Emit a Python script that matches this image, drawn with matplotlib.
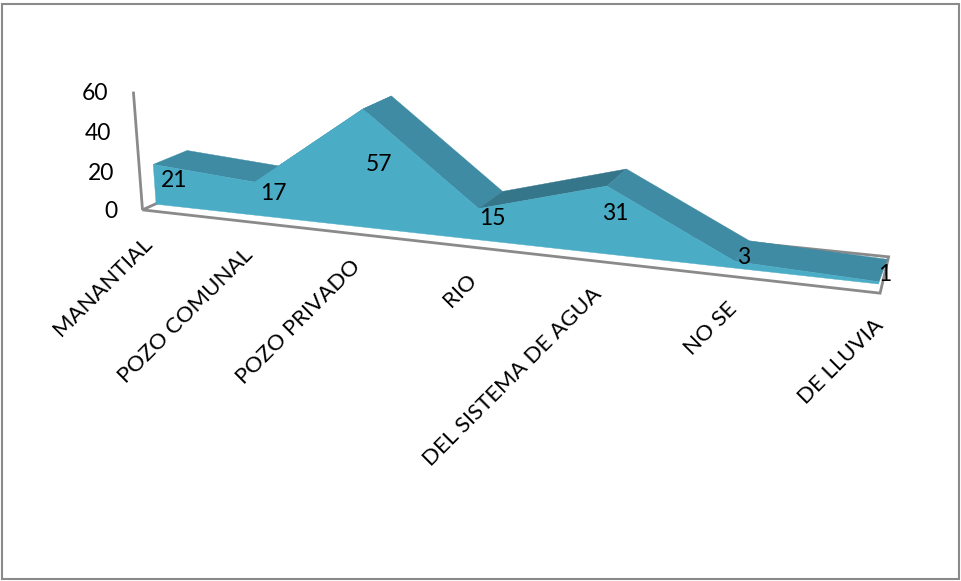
import numpy as np
import matplotlib
matplotlib.use("Agg")
import matplotlib.pyplot as plt
from matplotlib.patches import Polygon, Rectangle

categories = ["MANANTIAL", "POZO COMUNAL", "POZO PRIVADO", "RIO",
              "DEL SISTEMA DE AGUA", "NO SE", "DE LLUVIA"]
values = [21, 17, 57, 15, 31, 3, 1]
y_ticks = [0, 20, 40, 60]

# camera calibration: (category, depth, value) -> picture pixel
calib_3d = [(0, 0, 0), (6, 0, 0), (0, 0, 21), (1, 0, 17), (2, 0, 57), (3, 0, 15), (4, 0, 31), (5, 0, 3),
            (0, 1, 21), (1, 1, 17), (2, 1, 57), (3, 1, 15), (4, 1, 31), (5, 1, 3), (6, 1, 1)]
calib_px = [(156, 205), (878, 284), (153, 164), (255, 182), (362, 108), (480, 208), (607, 186), (735, 263),
            (191, 151), (279, 166), (392, 97), (505, 191), (626, 170), (750, 241), (887, 258)]


def fit_camera(pts, px):
    A, b = [], []
    for (x, y, z), (u, v) in zip(pts, px):
        A.append([x, y, z, 1, 0, 0, 0, 0, -u * x, -u * y, -u * z])
        A.append([0, 0, 0, 0, x, y, z, 1, -v * x, -v * y, -v * z])
        b += [u, v]
    p = np.linalg.lstsq(np.array(A, float), np.array(b, float), rcond=None)[0]
    return np.append(p, 1).reshape(3, 4)


P = fit_camera(calib_3d, calib_px)


def project(x, y, z):
    h = P @ np.array([x, y, z, 1.0])
    return h[0] / h[2], h[1] / h[2]


FRONT = "#4BACC6"
TOP = "#3F8BA4"
TOP_UP = "#35768A"
GREY = "#8A8A8A"

fig = plt.figure(figsize=(9.62, 5.81), dpi=100)
ax = fig.add_axes([0, 0, 1, 1])
ax.set_xlim(0, 962)
ax.set_ylim(581, 0)
ax.axis("off")
plt.rcParams["font.family"] = ["Lato", "DejaVu Sans"]

# outer frame
ax.add_patch(Rectangle((2.5, 3.5), 957, 575, fc="white", ec=GREY, lw=1.5))

# floor of the 3d box
x0, x1_front, x1_back = -0.01, 6.03, 6.0
d0, d1 = -0.36, 1.22
floor = [project(x0, d0, 0), project(x1_front, d0, 0), project(x1_back, d1, 0), project(x0, d1, 0)]
ax.add_patch(Polygon(floor, closed=True, fc="white", ec=GREY, lw=2, joinstyle="miter"))

# value axis
ax.plot(*zip(project(x0, d0, 0), project(x0, d0, 60)), color=GREY, lw=2, solid_capstyle="butt")

# top faces of the ribbon, then the front face over them
n = len(values)
for i in range(n - 1):
    quad = [project(i, 0, values[i]), project(i + 1, 0, values[i + 1]),
            project(i + 1, 1, values[i + 1]), project(i, 1, values[i])]
    color = TOP_UP if i == 3 else TOP
    ax.add_patch(Polygon(quad, closed=True, fc=color, ec=color, lw=0.3))

front = [project(i, 0, values[i]) for i in range(n)]
front += [project(i, 0, 0) for i in range(n - 1, -1, -1)]
ax.add_patch(Polygon(front, closed=True, fc=FRONT, ec=FRONT, lw=0.3))

# data labels
for i, v in enumerate(values):
    px, py = project(i, 0.5, v / 2)
    ax.text(px + 2, py + 3, str(v), ha="center", va="center", fontsize=16.5, color="black")

# value ticks
for t in y_ticks:
    px, py = project(x0, d0, t)
    ax.text(px - 25, py + 1.5, str(t), ha="right", va="center", fontsize=16.5, color="black")

# category labels
for i, c in enumerate(categories):
    px, py = project(i, d0, 0)
    ax.text(px - 2, py + 23, c, rotation=45, rotation_mode="anchor", ha="right", va="top",
            fontsize=16, color="black")

fig.savefig("out.png", dpi=100, facecolor="white")
